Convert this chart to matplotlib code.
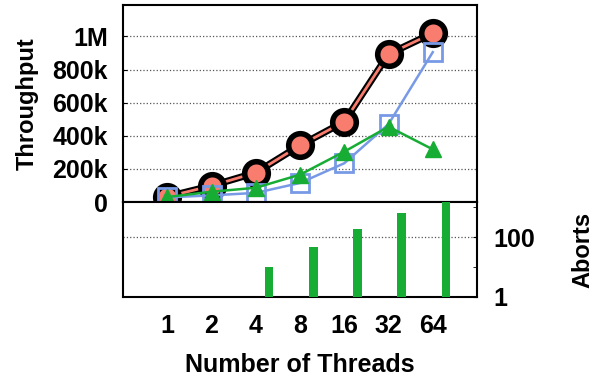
import matplotlib
matplotlib.use("Agg")
import matplotlib.pyplot as plt
from matplotlib.ticker import FixedLocator, NullFormatter

plt.rcParams['font.family'] = ['Liberation Sans', 'DejaVu Sans']
plt.rcParams['font.weight'] = 'bold'

threads = ["1", "2", "4", "8", "16", "32", "64"]
red_tput = [32000, 98000, 177000, 342000, 485000, 893000, 1020000]
blue_tput = [28000, 40000, 55000, 115000, 234000, 470000, 905000]
green_tput = [30000, 62000, 86000, 165000, 304000, 455000, 318000]
aborts = [0, 0, 10, 45, 190, 620, 1500]

red = "#f87d6f"
blue = "#7899e6"
green = "#17ad35"

fig = plt.figure(figsize=(5.94, 3.79), dpi=100)
ax1 = fig.add_axes([123/594, 1-202/379, (477-123)/594, (202-5)/379])
ax2 = fig.add_axes([123/594, 1-297/379, (477-123)/594, (297-202)/379])

x = list(range(len(threads)))

# red series first, the others drawn on top of it
ax1.plot(x, red_tput, color='black', lw=5, zorder=3)
ax1.plot(x, red_tput, color=red, lw=2, marker='o', ms=17, mfc=red,
         mec='black', mew=4, zorder=4)
ax1.plot(x, blue_tput, color=blue, lw=1.8, marker='s', ms=13, mfc='none',
         mec=blue, mew=2, zorder=5)
ax1.plot(x, green_tput, color=green, lw=1.8, marker='^', ms=11, mfc=green,
         mec=green, zorder=6)

ax1.set_xlim(-1, 7)
ax1.set_ylim(0, 1190000)
ax1.set_yticks([0, 200000, 400000, 600000, 800000, 1000000])
ax1.set_yticklabels(["0", "200k", "400k", "600k", "800k", "1M"])
ax1.set_xticks([])
ax1.grid(axis='y', linestyle=':', color='#555555', lw=0.9)
ax1.set_ylabel("Throughput", fontsize=17, fontweight='bold', labelpad=10)
ax1.tick_params(axis='y', labelsize=18, direction='in', length=3, pad=11)
for s in ax1.spines.values():
    s.set_linewidth(1.5)

bx = [i + 0.3 for i in x]
ax2.bar(bx, aborts, width=0.2, color=green, zorder=3)
ax2.set_yscale('log')
ax2.set_ylim(1, 1470)
ax2.set_xlim(-1, 7)
ax2.yaxis.tick_right()
ax2.yaxis.set_label_position('right')
ax2.yaxis.set_major_locator(FixedLocator([1, 100]))
ax2.yaxis.set_minor_locator(FixedLocator([10, 1000]))
ax2.yaxis.set_minor_formatter(NullFormatter())
ax2.set_yticklabels(["1", "100"])
ax2.grid(axis='y', which='major', linestyle=':', color='#555555', lw=0.9)
ax2.tick_params(axis='y', which='both', labelsize=18, direction='in', length=3, pad=12)
ax2.set_ylabel("Aborts", fontsize=17, fontweight='bold', labelpad=26)
ax2.set_xticks(x)
ax2.set_xticklabels(threads)
ax2.tick_params(axis='x', labelsize=18, length=0, pad=12)
ax2.set_xlabel("Number of Threads", fontsize=18, fontweight='bold', labelpad=11)
for s in ax2.spines.values():
    s.set_linewidth(1.5)

fig.savefig("out.png", dpi=100)
